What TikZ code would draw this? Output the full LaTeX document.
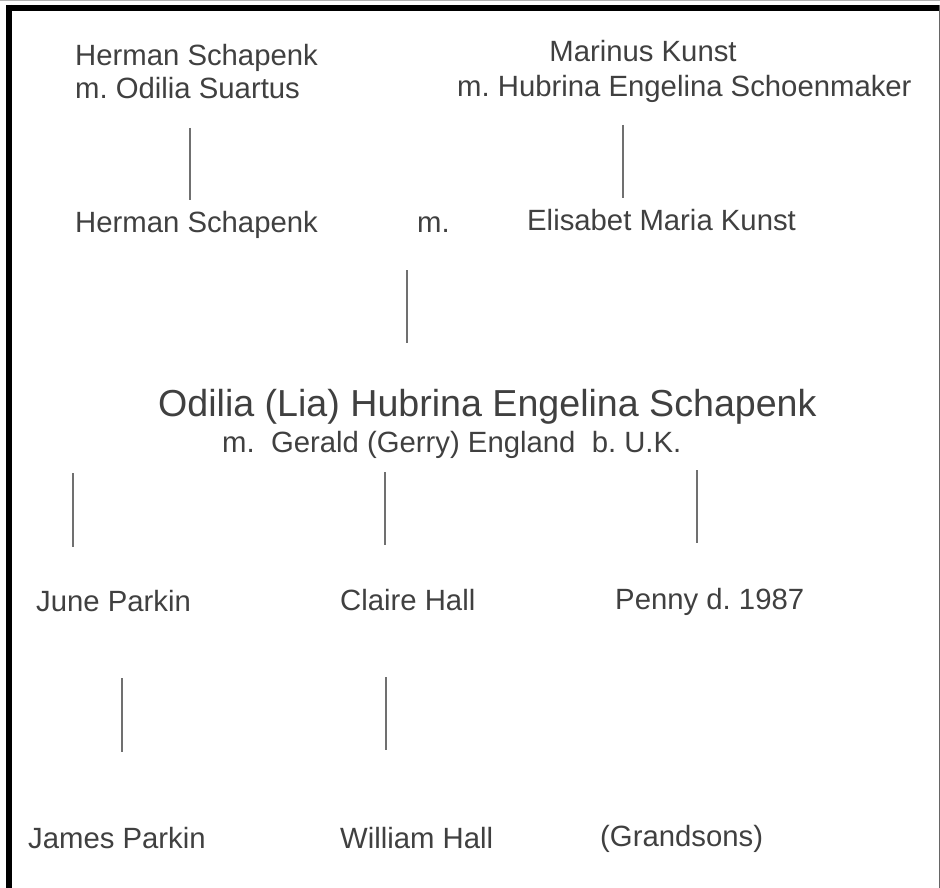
\documentclass[tikz,border=0pt]{standalone}
\usepackage{fontspec}
\setmainfont{Liberation Sans}
\definecolor{txt}{HTML}{404040}
\definecolor{ln}{HTML}{707070}
\frenchspacing
\begin{document}
\begin{tikzpicture}[x=1pt,y=-1pt,
  lbl/.style={inner sep=0pt,anchor=base west,text=txt,font=\fontsize{29.3}{35}\selectfont\frenchspacing},
  big/.style={inner sep=0pt,anchor=base west,text=txt,font=\fontsize{37.6}{44}\selectfont\frenchspacing},
  link/.style={draw=ln,line width=2pt}]
\useasboundingbox (0,0) rectangle (940,888);
\fill[white] (0,0) rectangle (940,888);
% frame
\draw[black!30,line width=1.5pt] (0,0.75) -- (940,0.75);
\draw[black,line width=6pt] (6,8) -- (940,8);
\draw[black,line width=6pt] (9,5) -- (9,888);
\draw[black!60,line width=1.5pt] (939.25,5) -- (939.25,888);
% grandparents
\node[lbl] (hs1) at (75,66) {Herman Schapenk};
\node[lbl] (hs1m) at (75,99) {m. Odilia Suartus};
\node[lbl,anchor=base] (mk) at (643,62) {Marinus Kunst};
\node[lbl] (mkm) at (457,97) {m. Hubrina Engelina Schoenmaker};
\coordinate (a1) at (190,128); \coordinate (a2) at (190,200);
\coordinate (b1) at (623,125); \coordinate (b2) at (623,198);
\draw[link] (a1) -- (a2);
\draw[link] (b1) -- (b2);
% parents
\node[lbl] (hs2) at (75,232) {Herman Schapenk};
\node[lbl] (m) at (417,232) {m.};
\node[lbl] (emk) at (527,230) {Elisabet Maria Kunst};
\coordinate (c1) at (407,270); \coordinate (c2) at (407,343);
\draw[link] (c1) -- (c2);
% Lia
\node[big] (lia) at (158,416) {Odilia (Lia) Hubrina Engelina Schapenk};
\node[lbl] (gerry) at (222,452) {m.\ \ Gerald (Gerry) England\ \ b. U.K.};
\coordinate (d1) at (73,473); \coordinate (d2) at (73,547);
\coordinate (e1) at (385,472); \coordinate (e2) at (385,545);
\coordinate (f1) at (697,470); \coordinate (f2) at (697,543);
\draw[link] (d1) -- (d2);
\draw[link] (e1) -- (e2);
\draw[link] (f1) -- (f2);
% children
\node[lbl] (june) at (36,611) {June Parkin};
\node[lbl] (claire) at (340,610) {Claire Hall};
\node[lbl] (penny) at (615,609) {Penny d. 1987};
\coordinate (g1) at (122,678); \coordinate (g2) at (122,752);
\coordinate (h1) at (386,677); \coordinate (h2) at (386,750);
\draw[link] (g1) -- (g2);
\draw[link] (h1) -- (h2);
% grandsons
\node[lbl] (james) at (28,848) {James Parkin};
\node[lbl] (william) at (340,848) {William Hall};
\node[lbl] (gs) at (600,846) {(Grandsons)};
\end{tikzpicture}
\end{document}
